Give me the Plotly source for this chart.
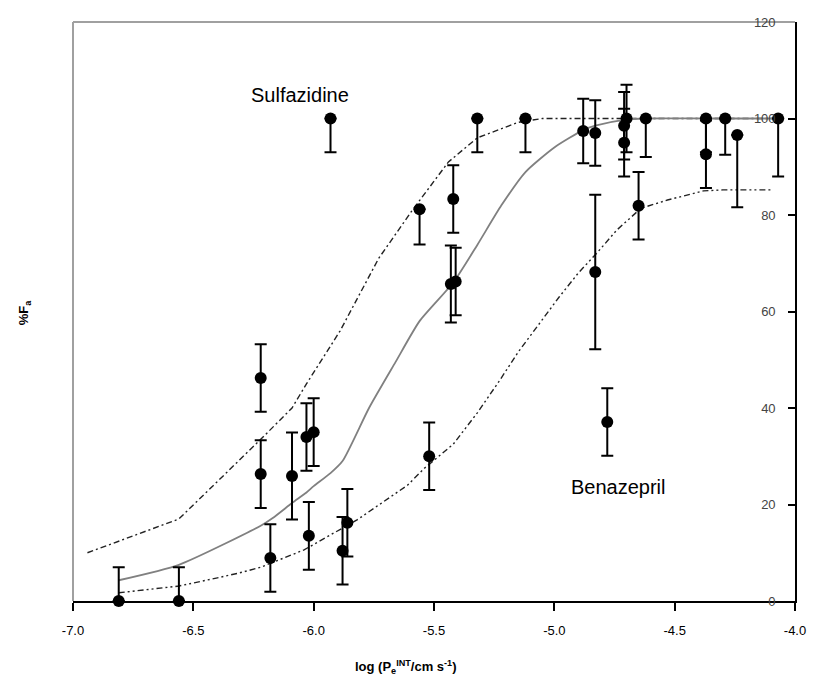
import plotly.graph_objects as go

# ---- data ----
pts_x = [-6.81, -6.56, -6.22, -6.22, -6.18, -6.09, -6.03, -6.00, -6.02, -5.88, -5.86,
         -5.93, -5.56, -5.52, -5.42, -5.43, -5.41, -5.32, -5.12, -4.88, -4.83, -4.83,
         -4.78, -4.70, -4.71, -4.71, -4.65, -4.62, -4.37, -4.37, -4.29, -4.24, -4.07]
pts_y = [0, 0, 46.2, 26.3, 8.9, 25.9, 34.0, 35.0, 13.5, 10.4, 16.2,
         100, 81.2, 30.0, 83.3, 65.7, 66.2, 100, 100, 97.4, 97.0, 68.2,
         37.1, 100, 98.5, 95.0, 81.9, 100, 100, 92.6, 100, 96.6, 100]
err_plus = [7, 7, 7, 7, 7, 9, 7, 7, 7, 7, 7,
            0, 0, 7, 7, 8, 7, 0, 0, 6.7, 6.8, 16,
            7, 7, 7, 7, 7, 0, 0, 7, 0, 0, 0]
err_minus = [0, 0, 7, 7, 7, 9, 7, 7, 7, 7, 7,
             7, 7.3, 7, 7, 8, 7, 7, 7, 6.7, 6.8, 16,
             7, 7, 7, 7, 7, 8, 7, 7, 7.5, 15, 12]

fit_x = [-6.81, -6.56, -6.22, -6.17, -6.09, -6.03, -6.00, -5.93, -5.88, -5.77, -5.66,
         -5.56, -5.42, -5.32, -5.22, -5.12, -5.00, -4.88, -4.83, -4.71, -4.62, -4.37, -4.07]
fit_y = [4.3, 7.5, 15.6, 17.2, 20.3, 22.5, 23.8, 26.5, 29.0, 40.0, 49.5,
         58.0, 66.0, 73.8, 82.0, 88.9, 94.0, 97.6, 98.5, 99.7, 100, 100, 100]

upper_x = [-6.94, -6.56, -6.22, -6.09, -6.03, -5.89, -5.73, -5.59, -5.44, -5.32, -5.15,
           -5.05, -4.07]
upper_y = [10.0, 17.0, 33.5, 40.0, 45.0, 56.0, 71.0, 81.0, 91.0, 96.0, 99.2,
           100, 100]

lower_x = [-6.81, -6.56, -6.40, -6.31, -6.22, -6.04, -5.82, -5.61, -5.54, -5.42, -5.32,
           -5.23, -5.15, -5.08, -4.98, -4.90, -4.82, -4.74, -4.64, -4.53, -4.38, -4.30, -4.09]
lower_y = [1.7, 3.1, 4.8, 5.8, 7.0, 10.6, 16.8, 24.0, 27.5, 32.5, 39.0,
           45.5, 51.6, 56.2, 63.0, 68.0, 72.3, 76.9, 81.4, 83.1, 85.0, 85.2, 85.2]

x_ticks = [-7.0, -6.5, -6.0, -5.5, -5.0, -4.5, -4.0]
y_ticks = [0, 20, 40, 60, 80, 100, 120]

FONT = "Liberation Sans, Arial, sans-serif"

fig = go.Figure()

fig.add_trace(go.Scatter(x=upper_x, y=upper_y, mode="lines",
                         line=dict(color="#222222", width=1.4, dash="6px,3px,2px,3px"),
                         hoverinfo="skip", showlegend=False))
fig.add_trace(go.Scatter(x=lower_x, y=lower_y, mode="lines",
                         line=dict(color="#222222", width=1.4, dash="6px,3px,2px,3px,2px,3px"),
                         hoverinfo="skip", showlegend=False))
fig.add_trace(go.Scatter(x=fit_x, y=fit_y, mode="lines", line_shape="spline",
                         line=dict(color="#808080", width=1.8, smoothing=0.6),
                         hoverinfo="skip", showlegend=False))
fig.add_trace(go.Scatter(x=pts_x, y=pts_y, mode="markers",
                         marker=dict(color="black", size=12),
                         error_y=dict(type="data", symmetric=False, array=err_plus,
                                      arrayminus=err_minus, color="black",
                                      thickness=2, width=6),
                         cliponaxis=False, showlegend=False))

# frame: left and top gray lines
fig.add_shape(type="line", xref="paper", yref="paper", x0=0, x1=0, y0=0, y1=1,
              line=dict(color="#a0a0a0", width=2), layer="below")
fig.add_shape(type="line", xref="paper", yref="paper", x0=0, x1=1, y0=1, y1=1,
              line=dict(color="#a0a0a0", width=2), layer="below")

fig.update_layout(
    width=818, height=684,
    margin=dict(l=73, r=19, t=22, b=83),
    paper_bgcolor="white", plot_bgcolor="white",
    font=dict(family=FONT, size=13, color="black"),
    xaxis=dict(range=[-7, -4], tickvals=x_ticks, ticktext=[f"{v:.1f}" for v in x_ticks],
               showgrid=False, zeroline=False, showline=True, linecolor="black",
               linewidth=2, ticks="outside", ticklen=8, tickwidth=2, tickcolor="black",
               ticklabelstandoff=8, ticklabeloverflow="allow",
               tickfont=dict(size=13)),
    yaxis=dict(range=[0, 120], tickvals=y_ticks, side="right",
               showgrid=False, zeroline=False, showline=True, linecolor="black",
               linewidth=2, ticks="inside", ticklen=7, tickwidth=2, tickcolor="black",
               ticklabelposition="inside", ticklabeloverflow="allow",
               ticklabelstandoff=12, tickfont=dict(size=13)),
    annotations=[
        dict(text="Sulfazidine", x=301, y=95, showarrow=False, font=dict(size=20)),
        dict(text="Benazepril", x=622, y=487, showarrow=False, font=dict(size=20)),
        dict(text="<b>log (P<sub>e</sub><sup>INT</sup>/cm s<sup>-1</sup>)</b>", x=408, y=667,
             showarrow=False, font=dict(size=13)),
        dict(text="<b>%F<sub>a</sub></b>", x=25, y=312, textangle=-90,
             showarrow=False, font=dict(size=13)),
    ],
)

# convert pixel-placed annotations into paper coordinates
W, H = 818, 684
L, R, T, B = 73, 19, 22, 83
pw, ph = W - L - R, H - T - B
new_ann = []
for a in fig.layout.annotations:
    px, py = a.x, a.y
    a.update(xref="paper", yref="paper", x=(px - L) / pw, y=(H - B - py) / ph,
             xanchor="center", yanchor="middle")
    new_ann.append(a)
fig.layout.annotations = new_ann

fig.write_html("out.html")
